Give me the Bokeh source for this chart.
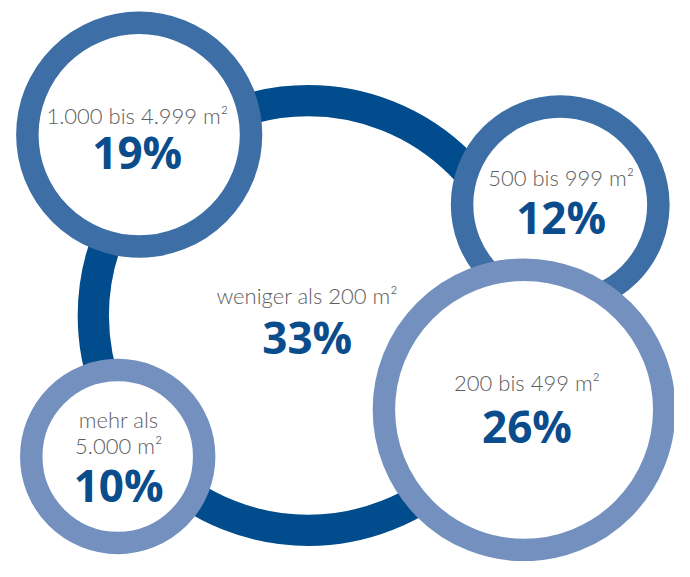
from bokeh.plotting import figure
from bokeh.models import Range1d, ColumnDataSource
from bokeh.core.properties import value
from bokeh.embed import file_html
from bokeh.resources import INLINE

# ---- data ----
categories = ["weniger als 200 m²", "200 bis 499 m²", "500 bis 999 m²",
              "1.000 bis 4.999 m²", "mehr als\n5.000 m²"]
shares = [33, 26, 12, 19, 10]

# ---- layout (reference pixel positions, 690 x 577 canvas) ----
cx = [315, 536, 573, 142, 120]
cy = [324, 421, 210, 138, 469]
r_outer = [236, 155, 112, 126, 100]
ring_w = [32, 23, 23, 23, 23]
ring_col = ["#004c8c", "#7390bf", "#3d6ea6", "#3d6ea6", "#7390bf"]
text_x = [314, 539, 574, 140, 121]
label_y = [313, 402, 192, 128, 440]   # text baselines
pct_y = [365, 457, 242, 175, 517]
line_h = 27
draw_order = [0, 3, 2, 4, 1]

W, H = 674, 561
s = W / 690.0
label_fs = 22.5 * s
pct_fs = 45 * s

p = figure(width=W, height=H, output_backend="svg", toolbar_location=None,
           x_range=Range1d(0, 690), y_range=Range1d(577, 0),
           min_border=0, outline_line_color=None)
p.axis.visible = False
p.grid.visible = False
p.background_fill_color = "white"
p.border_fill_color = "white"

for i in draw_order:
    src = ColumnDataSource(dict(x=[cx[i]], y=[cy[i]],
                                r=[r_outer[i] - ring_w[i] / 2]))
    p.circle(x="x", y="y", radius="r", source=src, fill_color="white",
             line_color=ring_col[i], line_width=ring_w[i] * s)

lx, ly, lt = [], [], []
for i, cat in enumerate(categories):
    for k, line in enumerate(cat.split("\n")):
        lx.append(text_x[i])
        ly.append(label_y[i] + k * line_h)
        lt.append(line)

p.text(x="x", y="y", text="t",
       source=ColumnDataSource(dict(x=lx, y=ly, t=lt)),
       text_font=value("'Lato Light', 'Open Sans'"),
       text_font_size=f"{label_fs:.1f}px",
       text_color="#5e5e5e", text_align="center",
       text_baseline="alphabetic", y_offset=-0.42 * label_fs)

p.text(x="x", y="y", text="t",
       source=ColumnDataSource(dict(x=text_x, y=pct_y,
                                    t=[f"{v}%" for v in shares])),
       text_font=value("Open Sans"), text_font_size=f"{pct_fs:.1f}px",
       text_font_style="bold", text_color="#0a4c8c",
       text_align="center", text_baseline="alphabetic",
       y_offset=-0.42 * pct_fs)

open("out.html", "w").write(file_html(p, INLINE))
